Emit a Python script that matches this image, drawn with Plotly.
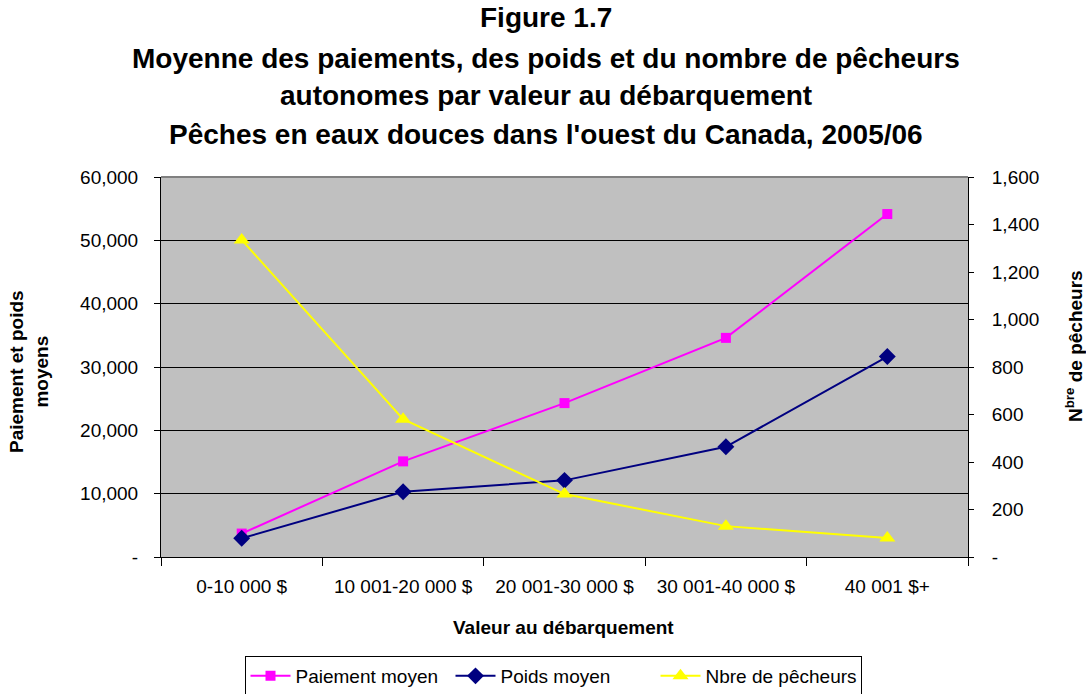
import plotly.graph_objects as go

categories = ["0-10 000 $", "10 001-20 000 $", "20 001-30 000 $", "30 001-40 000 $", "40 001 $+"]
paiement_moyen = [3700, 15100, 24300, 34600, 54150]
poids_moyen = [2950, 10300, 12100, 17400, 31650]
nbre_pecheurs = [1335, 580, 265, 130, 80]

left_ticks = [0, 10000, 20000, 30000, 40000, 50000, 60000]
left_ticktext = ["-", "10,000", "20,000", "30,000", "40,000", "50,000", "60,000"]
right_ticks = [0, 200, 400, 600, 800, 1000, 1200, 1400, 1600]
right_ticktext = ["-", "200", "400", "600", "800", "1,000", "1,200", "1,400", "1,600"]

title_lines = [
    "Figure 1.7",
    "Moyenne des paiements, des poids et du nombre de pêcheurs",
    "autonomes par valeur au débarquement",
    "Pêches en eaux douces dans l'ouest du Canada, 2005/06",
]

FONT = "Liberation Sans, Arial, sans-serif"

fig = go.Figure()
fig.add_trace(go.Scatter(
    x=categories, y=paiement_moyen, name="Paiement moyen", mode="lines+markers",
    line=dict(color="#FF00FF", width=2),
    marker=dict(symbol="square", size=10, color="#FF00FF"),
    yaxis="y"))
fig.add_trace(go.Scatter(
    x=categories, y=poids_moyen, name="Poids moyen", mode="lines+markers",
    line=dict(color="#000080", width=2),
    marker=dict(symbol="diamond", size=13, color="#000080"),
    yaxis="y"))
fig.add_trace(go.Scatter(
    x=categories, y=nbre_pecheurs, name="Nbre de pêcheurs", mode="lines+markers",
    line=dict(color="#FFFF00", width=2),
    marker=dict(symbol="triangle-up", size=14, color="#FFFF00"),
    yaxis="y2"))

annotations = []
title_y_px = [17, 58, 96, 134]
for txt, ypx in zip(title_lines, title_y_px):
    annotations.append(dict(
        text="<b>" + txt + "</b>", x=(546 - 161) / 807, y=(557 - ypx) / 380,
        xref="paper", yref="paper", xanchor="center", yanchor="middle",
        showarrow=False, font=dict(family=FONT, size=28, color="black")))
annotations.append(dict(
    text="<b>Paiement et poids<br>moyens</b>", x=(29 - 161) / 807, y=(557 - 372) / 380,
    xref="paper", yref="paper", xanchor="center", yanchor="middle", textangle=-90,
    showarrow=False, font=dict(family=FONT, size=19, color="black")))
annotations.append(dict(
    text="<b>N<sup>bre</sup> de pêcheurs</b>", x=(1074 - 161) / 807, y=(557 - 346) / 380,
    xref="paper", yref="paper", xanchor="center", yanchor="middle", textangle=-90,
    showarrow=False, font=dict(family=FONT, size=19, color="black")))
annotations.append(dict(
    text="<b>Valeur au débarquement</b>", x=(563 - 161) / 807, y=(557 - 627) / 380,
    xref="paper", yref="paper", xanchor="center", yanchor="middle",
    showarrow=False, font=dict(family=FONT, size=19, color="black")))

fig.update_layout(
    width=1086, height=694,
    margin=dict(l=161, r=118, t=177, b=137, autoexpand=False),
    paper_bgcolor="white", plot_bgcolor="#C0C0C0",
    font=dict(family=FONT, size=19, color="black"),
    showlegend=True,
    legend=dict(orientation="h", x=(553 - 161) / 807, y=(557 - 656) / 380,
                xanchor="center", yanchor="top",
                bordercolor="black", borderwidth=1, bgcolor="white",
                font=dict(family=FONT, size=19, color="black"),
                itemwidth=40, tracegroupgap=0, entrywidth=150),
    annotations=annotations,
    xaxis=dict(type="category", range=[-0.5, 4.5], showgrid=False,
               showline=True, linecolor="black", linewidth=1,
               ticks="outside", tickson="boundaries", ticklen=8, tickcolor="black",
               ticklabelstandoff=12, zeroline=False),
    yaxis=dict(range=[0, 60000], tickvals=left_ticks, ticktext=left_ticktext,
               showgrid=True, gridcolor="black", gridwidth=1,
               showline=True, linecolor="black", linewidth=1,
               ticks="outside", ticklen=6, tickcolor="black",
               ticklabelstandoff=12, zeroline=False),
    yaxis2=dict(range=[0, 1600], tickvals=right_ticks, ticktext=right_ticktext,
                overlaying="y", side="right", showgrid=False,
                showline=True, linecolor="black", linewidth=1,
                ticks="outside", ticklen=5, tickcolor="black",
                ticklabelstandoff=14, zeroline=False),
    yaxis3=dict(range=[0, 1600], tickvals=right_ticks, overlaying="y", side="right",
                anchor="x", showgrid=False, showticklabels=False,
                ticks="inside", ticklen=5, tickcolor="black", zeroline=False),
    shapes=[dict(type="line", xref="paper", yref="paper", x0=0, x1=1, y0=1, y1=1,
                 line=dict(color="#808080", width=2))],
)

fig.write_html(
    "out.html",
    config={"displayModeBar": False},
    post_script="document.body.style.margin='0';document.body.style.overflow='hidden';",
)
